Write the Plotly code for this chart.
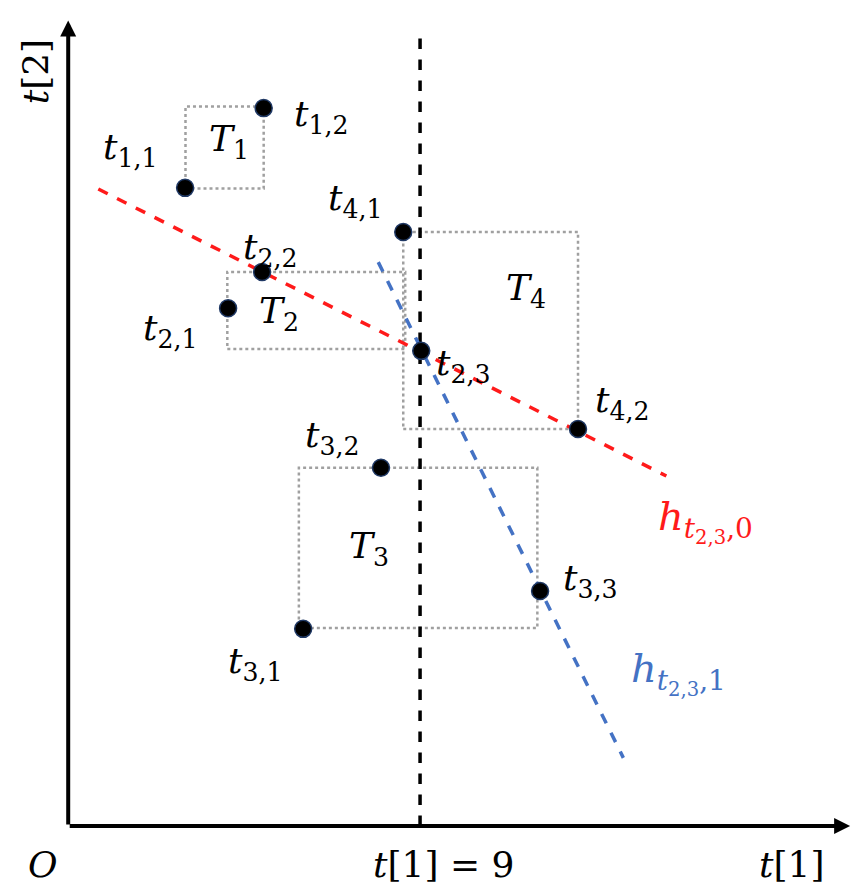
import plotly.graph_objects as go

# points (data units, t[1]=9 is the split line)
pt_names = ["1,1", "1,2", "2,1", "2,2", "2,3", "3,1", "3,2", "3,3", "4,1", "4,2"]
pt_x = [2.99, 5.0, 4.09, 4.96, 9.03, 6.01, 8.0, 12.07, 8.57, 13.04]
pt_y = [16.32, 18.36, 13.24, 14.17, 12.15, 5.04, 9.16, 6.01, 15.19, 10.15]
# label offsets in pixels (ax, ay)
lab_off = [(-55, -38), (58, 8), (-58, 22), (8, -22), (42, 15), (-48, 35), (-48, -30), (50, -10), (-48, -32), (44, -27)]

# boxes: name, x0, x1, y0, y1
boxes = [("1", 3.0, 5.0, 16.3, 18.4), ("2", 4.07, 8.62, 12.2, 14.17),
         ("3", 5.9, 12.0, 5.06, 9.16), ("4", 8.57, 13.04, 10.15, 15.19)]
box_lab = [(4.1, 17.5), (5.4, 13.1), (7.7, 7.1), (11.7, 13.7)]

red_x = [0.77, 15.3]
red_y = [16.29, 8.95]
blue_x = [7.93, 14.2]
blue_y = [14.42, 1.74]
split = 9

fnt = dict(family="DejaVu Serif", size=36, color="black")

fig = go.Figure()
for x0, x1, y0, y1 in [b[1:] for b in boxes]:
    fig.add_shape(type="rect", x0=x0, x1=x1, y0=y0, y1=y1, layer="below",
                  line=dict(color="#a0a0a0", width=2.5, dash="dot"))
fig.add_trace(go.Scatter(x=[split, split], y=[0, 20.2], mode="lines",
                         line=dict(color="black", width=3.5, dash="dash")))
fig.add_trace(go.Scatter(x=red_x, y=red_y, mode="lines",
                         line=dict(color="#ff1a1a", width=3.5, dash="dash")))
fig.add_trace(go.Scatter(x=blue_x, y=blue_y, mode="lines",
                         line=dict(color="#4472c4", width=3.5, dash="dash")))
fig.add_trace(go.Scatter(x=pt_x, y=pt_y, mode="markers",
                         marker=dict(color="black", size=17, line=dict(color="#1f3864", width=1.5))))

for n, x, y, (ax, ay) in zip(pt_names, pt_x, pt_y, lab_off):
    fig.add_annotation(x=x, y=y, ax=ax, ay=ay, showarrow=True, arrowcolor="rgba(0,0,0,0)",
                       text=f"<i>t</i><sub>{n}</sub>", font=fnt)
for (n, *_), (x, y) in zip(boxes, box_lab):
    fig.add_annotation(x=x, y=y, showarrow=False, text=f"<i>T</i><sub>{n}</sub>", font=fnt)

fig.add_annotation(x=16.3, y=7.8, showarrow=False, text="<i>h</i><sub><i>t</i><sub>2,3</sub>,0</sub>",
                   font=dict(family="DejaVu Serif", size=40, color="#ff1a1a"))
fig.add_annotation(x=15.6, y=3.9, showarrow=False, text="<i>h</i><sub><i>t</i><sub>2,3</sub>,1</sub>",
                   font=dict(family="DejaVu Serif", size=40, color="#4472c4"))

# axes with arrows
fig.add_annotation(x=20.0, y=0, ax=0, ay=0, axref="x", ayref="y", showarrow=True,
                   arrowhead=2, arrowwidth=4, arrowsize=0.8, arrowcolor="black", text="")
fig.add_annotation(x=0, y=20.6, ax=0, ay=0, axref="x", ayref="y", showarrow=True,
                   arrowhead=2, arrowwidth=4, arrowsize=0.8, arrowcolor="black", text="")
fig.add_annotation(x=-0.65, y=-1.0, showarrow=False, text="<i>O</i>", font=fnt)
fig.add_annotation(x=18.5, y=-1.0, showarrow=False, text="<i>t</i>[1]", font=fnt)
fig.add_annotation(x=9.6, y=-1.0, showarrow=False, text="<i>t</i>[1] = 9", font=fnt)
fig.add_annotation(x=-0.85, y=19.3, showarrow=False, text="<i>t</i>[2]", font=fnt, textangle=-90)

fig.update_layout(width=864, height=882, margin=dict(l=0, r=0, t=0, b=0),
                  plot_bgcolor="white", paper_bgcolor="white", showlegend=False)
fig.update_xaxes(range=[-1.54, 20.56], visible=False)
fig.update_yaxes(range=[-1.64, 20.92], visible=False)
fig.write_html("out.html")
